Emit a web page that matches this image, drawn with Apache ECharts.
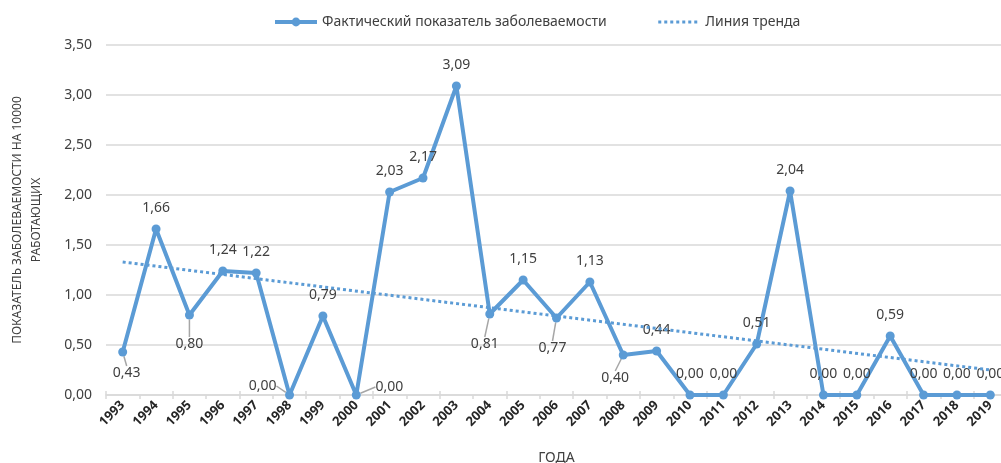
<!DOCTYPE html>
<html>
<head>
<meta charset="utf-8">
<title>Показатель заболеваемости</title>
<script src="https://cdn.jsdelivr.net/npm/echarts@6/dist/echarts.min.js"></script>
<style>
  html, body { margin: 0; padding: 0; background: #ffffff; }
  #chart { width: 1001px; height: 463px; }
</style>
</head>
<body>
<div id="chart"></div>
<script>
// Годы наблюдения
const years = ['1993', '1994', '1995', '1996', '1997', '1998', '1999', '2000', '2001',
  '2002', '2003', '2004', '2005', '2006', '2007', '2008', '2009', '2010', '2011',
  '2012', '2013', '2014', '2015', '2016', '2017', '2018', '2019'];

// Фактический показатель заболеваемости на 10000 работающих
const rates = [0.43, 1.66, 0.80, 1.24, 1.22, 0.00, 0.79, 0.00, 2.03,
  2.17, 3.09, 0.81, 1.15, 0.77, 1.13, 0.40, 0.44, 0.00, 0.00,
  0.51, 2.04, 0.00, 0.00, 0.59, 0.00, 0.00, 0.00];

// Линия тренда: значения на первом и последнем годах
const trendEnds = [1.33, 0.25];

// Деления оси значений
const yMin = 0, yMax = 3.5, yStep = 0.5;

// Смещение подписей относительно точки (px); остальные — над точкой
const labelShift = {
  '1993': [4, 21], '1995': [0, 29], '1998': [-27, -9], '2000': [33, -8],
  '2004': [-5, 30], '2006': [-4, 30], '2008': [-8, 23]
};
const defaultShift = [0, -21];

const BLUE = '#5B9BD5';
const TEXT = '#404040';
const GRID = '#d9d9d9';
const FONT = '"Noto Sans", "Liberation Sans", sans-serif';
const fmt = v => Number(v).toFixed(2).replace('.', ',');

const trendData = years.map((y, i) =>
  i === 0 ? trendEnds[0] : (i === years.length - 1 ? trendEnds[1] : null));

const rateData = rates.map((v, i) =>
  labelShift[years[i]]
    ? { value: v, labelLine: { show: true } }
    : v);

const chart = echarts.init(document.getElementById('chart'), null, { renderer: 'canvas' });

chart.setOption({
  animation: false,
  textStyle: { fontFamily: FONT },
  legend: {
    top: 10,
    left: 268,
    itemWidth: 42,
    itemHeight: 11,
    itemGap: 50,
    textStyle: { fontSize: 14, color: TEXT, fontFamily: FONT },
    data: [
      { name: 'Фактический показатель заболеваемости', lineStyle: { width: 4 } },
      { name: 'Линия тренда', itemStyle: { opacity: 0 }, lineStyle: { width: 3 } }
    ]
  },
  grid: { left: 106, top: 45, width: 901, height: 350, outerBoundsMode: 'none', containLabel: false },
  xAxis: [{
    type: 'category',
    data: years,
    boundaryGap: true,
    position: 'bottom',
    name: 'ГОДА',
    nameLocation: 'middle',
    nameGap: 56,
    nameTextStyle: { fontSize: 14, color: TEXT, fontFamily: FONT },
    axisLine: { lineStyle: { color: GRID, width: 1.5 } },
    axisTick: { show: true, alignWithLabel: false, length: 4, lineStyle: { color: GRID, width: 1.5 } },
    axisLabel: {
      rotate: 45, interval: 0, fontSize: 13, fontWeight: 'bold',
      color: '#262626', margin: 8, fontFamily: FONT
    },
    splitLine: { show: false }
  }, {
    type: 'category',
    data: years,
    boundaryGap: true,
    position: 'bottom',
    offset: 0,
    axisLine: { show: false },
    axisTick: { show: true, inside: true, alignWithLabel: false, length: 4, lineStyle: { color: GRID, width: 1.5 } },
    axisLabel: { show: false },
    splitLine: { show: false }
  }],
  yAxis: {
    type: 'value',
    min: yMin,
    max: yMax,
    interval: yStep,
    name: 'ПОКАЗАТЕЛЬ ЗАБОЛЕВАЕМОСТИ НА 10000\nРАБОТАЮЩИХ',
    nameLocation: 'middle',
    nameGap: 60,
    nameTextStyle: { fontSize: 12, color: TEXT, lineHeight: 19, align: 'center', fontFamily: FONT },
    axisLine: { show: false },
    axisTick: { show: false },
    axisLabel: { fontSize: 14, color: TEXT, margin: 14, formatter: v => fmt(v), fontFamily: FONT },
    splitLine: { lineStyle: { color: GRID, width: 1.5 } }
  },
  series: [{
    name: 'Фактический показатель заболеваемости',
    type: 'line',
    data: rateData,
    symbol: 'circle',
    symbolSize: 9,
    itemStyle: { color: BLUE },
    lineStyle: { color: BLUE, width: 4 },
    z: 2,
    label: {
      show: true,
      position: 'top',
      fontSize: 14,
      color: TEXT,
      fontFamily: FONT,
      formatter: p => fmt(p.value)
    },
    labelLine: { show: false, lineStyle: { color: '#a6a6a6', width: 1.5 } },
    labelLayout: params => {
      if (params.seriesIndex !== 0) return {};
      const s = labelShift[years[params.dataIndex]] || defaultShift;
      const r = params.rect;
      return {
        x: r.x + r.width / 2 + s[0],
        y: r.y + r.height / 2 + s[1],
        align: 'center',
        verticalAlign: 'middle'
      };
    }
  }, {
    name: 'Линия тренда',
    type: 'line',
    data: trendData,
    connectNulls: true,
    symbol: 'none',
    itemStyle: { color: BLUE },
    lineStyle: { color: BLUE, width: 3, type: [3, 3] },
    z: 3
  }]
});
</script>
</body>
</html>
